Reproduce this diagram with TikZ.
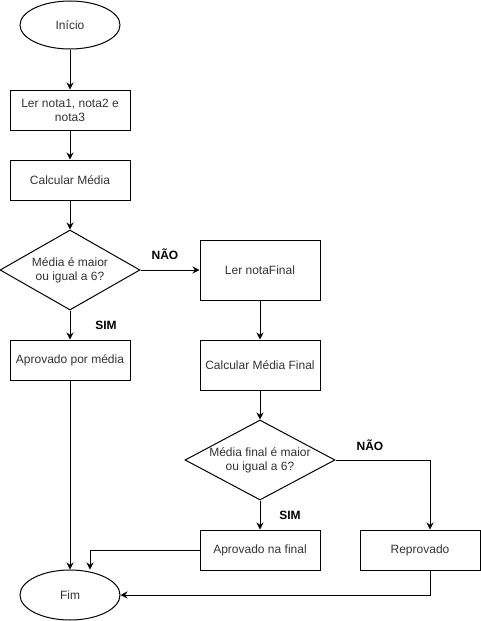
\documentclass[tikz,border=0pt]{standalone}
\usepackage{fontspec}
\setmainfont{Liberation Sans}
\usetikzlibrary{arrows.meta}
\usetikzlibrary{shapes.geometric}
\tikzstyle{termnode}=[draw=black, line width=1pt, shape=ellipse, minimum width=100pt, minimum height=48pt, inner sep=0pt, text=black!80, font=\fontsize{12}{14}\selectfont]
\tikzstyle{procnode}=[draw=black, line width=1pt, shape=rectangle, minimum width=120pt, minimum height=40pt, inner sep=2pt, align=center, text=black!80, font=\fontsize{12}{14}\selectfont]
\tikzstyle{decnode}=[draw=black, line width=1pt, shape=diamond, aspect=1.75, minimum width=140pt, minimum height=80pt, inner sep=-5pt, align=center, text=black!80, font=\fontsize{12}{14}\selectfont]
\tikzstyle{answer}=[shape=rectangle, inner sep=0pt, text=black, font=\bfseries\fontsize{12}{14}\selectfont]

\begin{document}
\begin{tikzpicture}[x=1pt, y=-1pt]
\useasboundingbox (0,0) rectangle (481,621);
\node [termnode] (inicio) at (70,25) {Início};
\node [procnode] (ler) at (70,110) {Ler nota1, nota2 e\\nota3};
\node [procnode] (calc) at (70,180) {Calcular Média};
\node [decnode] (dec1) at (70,270) {Média é maior\\ou igual a 6?};
\node [procnode] (aprov1) at (70,360) {Aprovado por média};
\node [termnode, minimum height=50pt] (fim) at (70,595) {Fim};
\node [procnode, minimum height=60pt] (lerfinal) at (260,270) {Ler notaFinal};
\node [procnode, minimum height=50pt] (calcfinal) at (260,365) {Calcular Média Final};
\node [decnode, minimum width=150pt] (dec2) at (260,460) {Média final é maior\\ou igual a 6?};
\node [procnode] (aprov2) at (260,550) {Aprovado na final};
\node [procnode] (reprov) at (420,550) {Reprovado};

\draw[-{Stealth[length=7pt, width=7pt]}, line width=1pt, color=black] (inicio) -- (ler);
\draw[-{Stealth[length=7pt, width=7pt]}, line width=1pt, color=black] (ler) -- (calc);
\draw[-{Stealth[length=7pt, width=7pt]}, line width=1pt, color=black] (calc) -- (dec1);
\draw[-{Stealth[length=7pt, width=7pt]}, line width=1pt, color=black] (dec1) -- (aprov1);
\draw[-{Stealth[length=7pt, width=7pt]}, line width=1pt, color=black] (dec1.east) -- (lerfinal.west);
\draw[-{Stealth[length=7pt, width=7pt]}, line width=1pt, color=black] (aprov1) -- (fim);
\draw[-{Stealth[length=7pt, width=7pt]}, line width=1pt, color=black] (lerfinal) -- (calcfinal);
\draw[-{Stealth[length=7pt, width=7pt]}, line width=1pt, color=black] (calcfinal) -- (dec2);
\draw[-{Stealth[length=7pt, width=7pt]}, line width=1pt, color=black] (dec2) -- (aprov2);
\draw[-{Stealth[length=7pt, width=7pt]}, line width=1pt, color=black] (dec2.east) -| ([xshift=10pt]reprov.north);
\draw[-{Stealth[length=7pt, width=7pt]}, line width=1pt, color=black] (aprov2.west) -| ([xshift=20pt]fim.north);
\draw[-{Stealth[length=7pt, width=7pt]}, line width=1pt, color=black] ([xshift=10pt]reprov.south) |- (fim.east);

\node [answer] (nao1) at (165,254) {NÃO};
\node [answer] (sim1) at (106,325) {SIM};
\node [answer] (nao2) at (370,445) {NÃO};
\node [answer] (sim2) at (290,515) {SIM};
\end{tikzpicture}
\end{document}
